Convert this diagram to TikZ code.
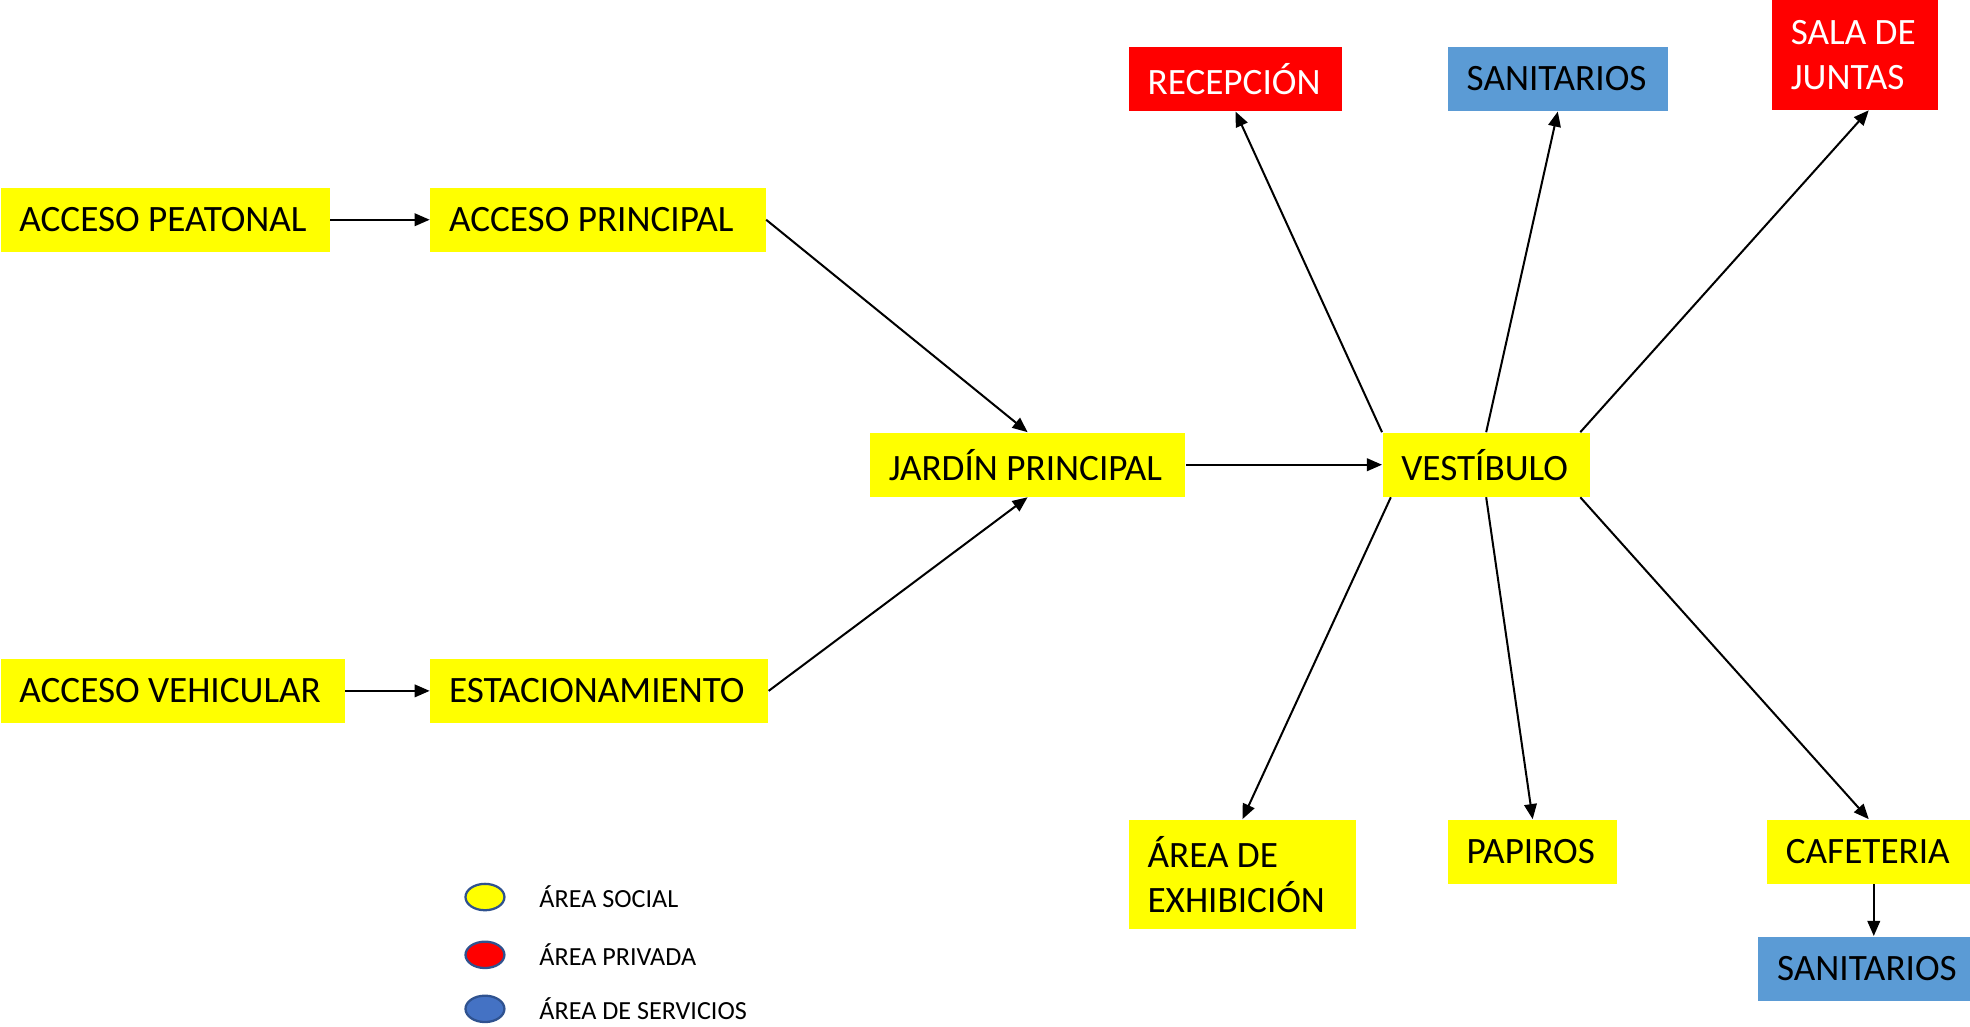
\documentclass[tikz,border=0pt]{standalone}
\usepackage{fontspec}
\setmainfont{Carlito}
\usetikzlibrary{arrows.meta,shapes.geometric}
\definecolor{cyel}{HTML}{FFFF00}
\definecolor{cred}{HTML}{FF0000}
\definecolor{cblu}{HTML}{5B9BD5}
\definecolor{lblu}{HTML}{4472C4}
\definecolor{lbord}{HTML}{2F528F}
\tikzset{
  box/.style={anchor=north west, inner xsep=7.5pt, inner ysep=0pt, align=left,
    font=\fontsize{14.8}{18}\selectfont, minimum height=25.5pt,
    execute at begin node={\spaceskip=0pt\xspaceskip=0pt}},
  soc/.style={box, fill=cyel, text=black},
  pri/.style={box, fill=cred, text=white},
  ser/.style={box, fill=cblu, text=black},
  conn/.style={draw=black, line width=0.8pt, -{Triangle[length=6pt,width=5pt]}},
  leg/.style={ellipse, draw=lbord, line width=0.9pt, minimum width=15.5pt, minimum height=10.5pt, inner sep=0pt},
  legtxt/.style={anchor=west, inner sep=0pt, font=\fontsize{10.4}{12}\selectfont},
}
\begin{document}
\begin{tikzpicture}[x=0.5pt,y=-0.5pt]
\useasboundingbox (0,0) rectangle (1568,817);
% nodes
\node[soc, text width=116pt] (pea) at (0,149) {ACCESO~PEATONAL};
\node[soc, text width=118.5pt] (prin) at (342,149) {ACCESO~PRINCIPAL};
\node[soc, text width=122pt] (veh) at (0,524) {ACCESO~VEHICULAR};
\node[soc, text width=119.5pt] (est) at (342,524) {ESTACIONAMIENTO};
\node[soc, text width=110.5pt] (jar) at (692,344) {JARDÍN~PRINCIPAL};
\node[soc, text width=67.5pt] (ves) at (1100,344) {VESTÍBULO};
\node[pri, text width=70pt] (rec) at (898,37) {RECEPCIÓN};
\node[ser, text width=72.5pt] (san1) at (1152,37) {SANITARIOS};
\node[pri, text width=51pt, minimum height=43.5pt] (sal) at (1410,0) {SALA~DE\\JUNTAS};
\node[soc, text width=75.5pt, minimum height=43.5pt] (exh) at (898,652) {ÁREA~DE\\EXHIBICIÓN};
\node[soc, text width=52.5pt] (pap) at (1152,652) {PAPIROS};
\node[soc, text width=66pt] (caf) at (1406,652) {CAFETERIA};
\node[ser, text width=69.5pt] (san2) at (1399,745) {SANITARIOS};
% connectors
\draw[conn] (pea.east) -- (prin.west);
\draw[conn] (veh.east) -- (est.west);
\draw[conn] (prin.east) -- (jar.north);
\draw[conn] (est.east) -- (jar.south);
\draw[conn] (jar.east) -- (ves.west);
\draw[conn] (ves.north west) -- (rec.south);
\draw[conn] (ves.north) -- (san1.south);
\draw[conn] ([xshift=-4pt]ves.north east) -- ([xshift=5.5pt]sal.south);
\draw[conn] ([xshift=3.5pt]ves.south west) -- (exh.north);
\draw[conn] (ves.south) -- (pap.north);
\draw[conn] ([xshift=-4pt]ves.south east) -- (caf.north);
\draw[conn] ([xshift=2pt]caf.south) -- ([xshift=2pt]caf.south |- san2.north);
% legend
\node[leg, fill=cyel] (l1) at (386,714) {};
\node[leg, fill=cred] (l2) at (386,760) {};
\node[leg, fill=lblu] (l3) at (386,803) {};
\node[legtxt] (t1) at (429,714) {ÁREA SOCIAL};
\node[legtxt] (t2) at (429,760) {ÁREA PRIVADA};
\node[legtxt] (t3) at (429,803) {ÁREA DE SERVICIOS};
\end{tikzpicture}
\end{document}
